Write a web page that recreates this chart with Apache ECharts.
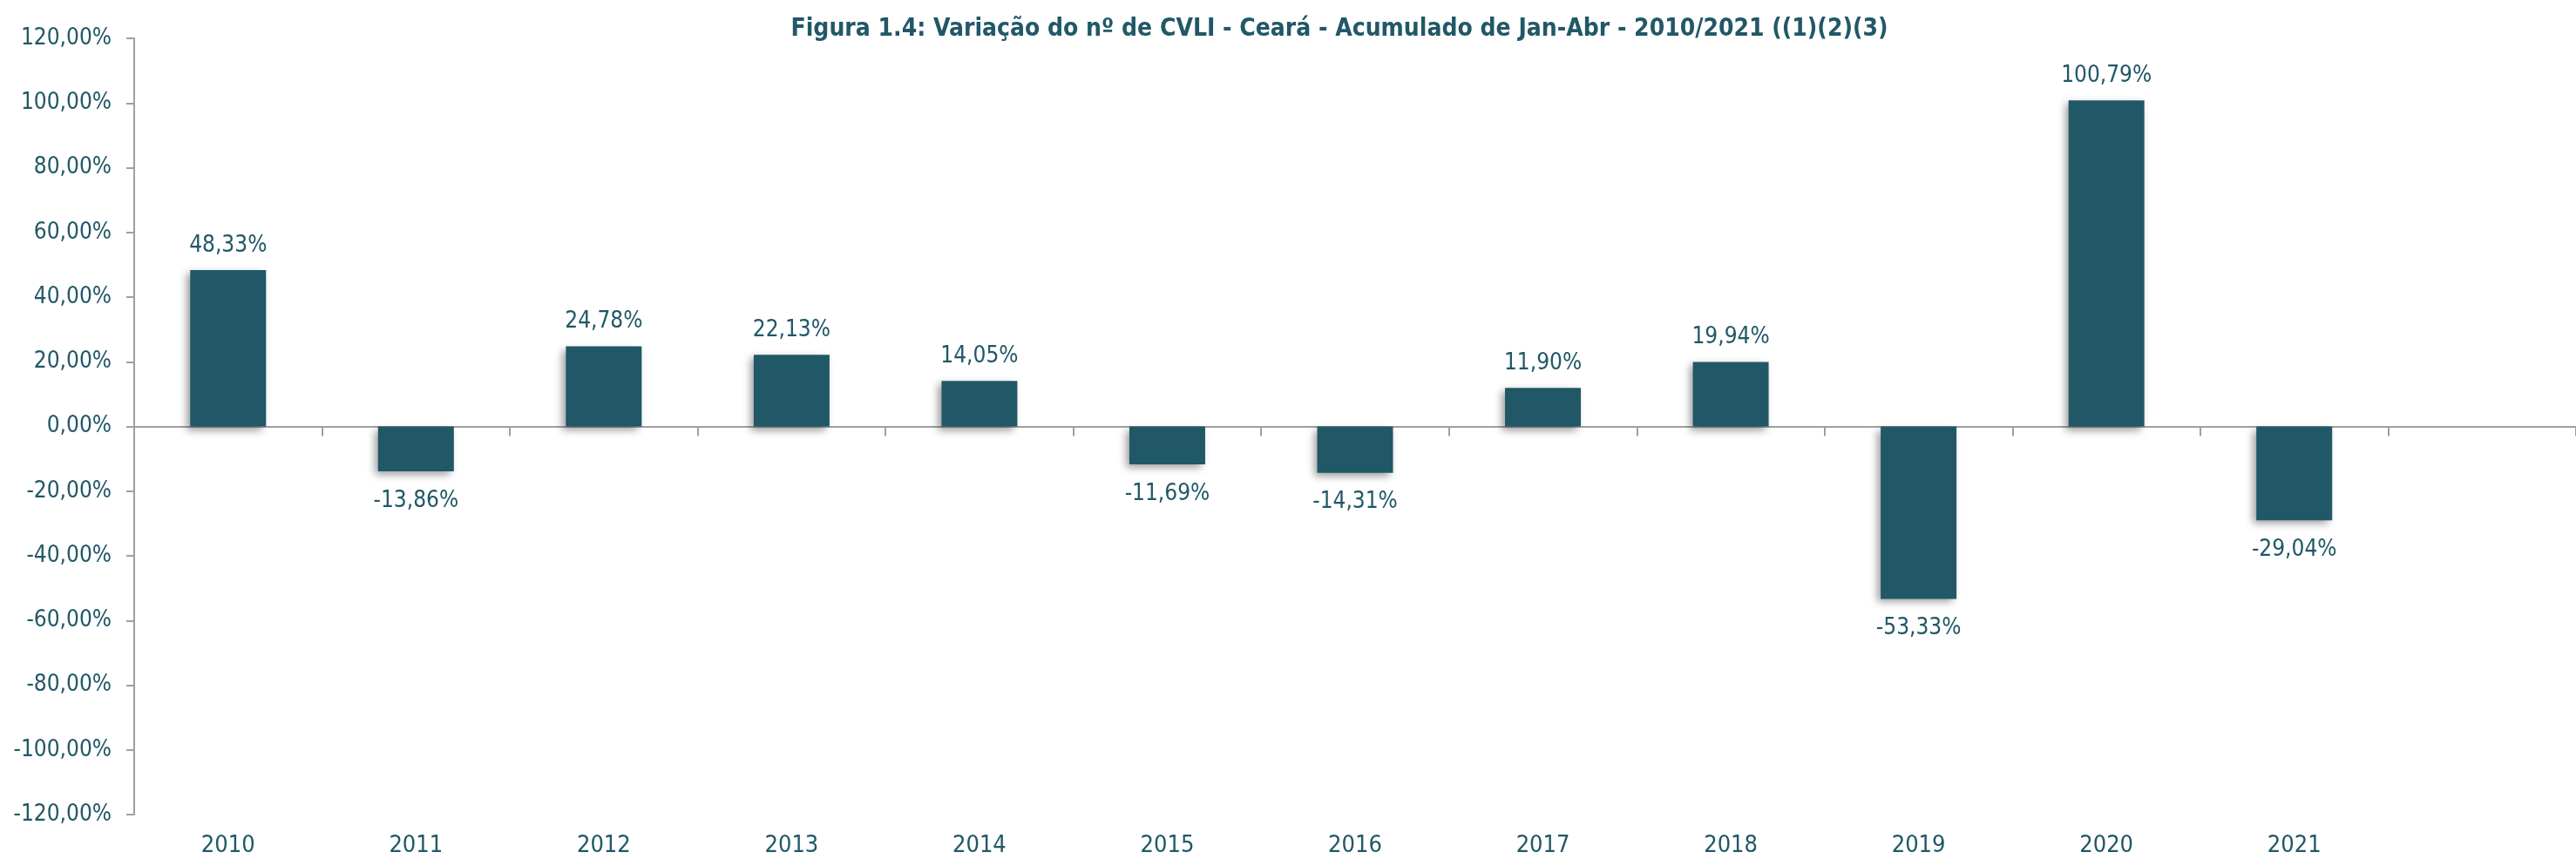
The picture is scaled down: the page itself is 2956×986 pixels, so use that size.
<!DOCTYPE html>
<html>
<head>
<meta charset="utf-8">
<script src="https://cdn.jsdelivr.net/npm/echarts@6/dist/echarts.min.js"></script>
<style>
  html, body { margin: 0; padding: 0; background: #fff; }
  #chart { width: 2956px; height: 986px; }
</style>
</head>
<body>
<div id="chart"></div>
<script>
const teal = '#215867';
const axisGray = '#a0a0a0';
const font = '"DejaVu Sans Condensed", "Liberation Sans", sans-serif';

const years = ['2010', '2011', '2012', '2013', '2014', '2015', '2016', '2017', '2018', '2019', '2020', '2021', ''];
const variation = [48.33, -13.86, 24.78, 22.13, 14.05, -11.69, -14.31, 11.90, 19.94, -53.33, 100.79, -29.04];

const pct = v => v.toFixed(2).replace('.', ',') + '%';

const chart = echarts.init(document.getElementById('chart'));
chart.setOption({
    animation: false,
    title: {
        text: 'Figura 1.4: Variação do nº de CVLI - Ceará - Acumulado de Jan-Abr - 2010/2021 ((1)(2)(3)',
        left: 1532,
        top: 15,
        textAlign: 'center',
        textStyle: { color: teal, fontFamily: font, fontWeight: 'bold', fontSize: 28 },
    },
    grid: { left: 154, right: -15, top: 44, bottom: 51 },
    xAxis: [
        {
            type: 'category',
            data: years,
            axisLine: { onZero: true, lineStyle: { color: axisGray, width: 2 } },
            axisTick: { show: true, length: 11, lineStyle: { color: axisGray, width: 2 } },
            axisLabel: { show: false },
        },
        {
            type: 'category',
            data: years,
            position: 'bottom',
            axisLine: { show: false },
            axisTick: { show: false },
            axisLabel: { color: teal, fontFamily: font, fontSize: 27, margin: 22 },
        },
    ],
    yAxis: {
        type: 'value',
        min: -120,
        max: 120,
        interval: 20,
        axisLine: { show: true, lineStyle: { color: axisGray, width: 2 } },
        axisTick: { show: true, length: 9, lineStyle: { color: axisGray, width: 2 } },
        splitLine: { show: false },
        axisLabel: { color: teal, fontFamily: font, fontSize: 26, margin: 26, formatter: pct },
    },
    series: [{
        type: 'bar',
        xAxisIndex: 0,
        barWidth: 87,
        data: variation.map(v => ({
            value: v,
            label: v < 0 ? { position: 'bottom', distance: 21 } : { position: 'top', distance: 15 },
        })),
        itemStyle: {
            color: teal,
            shadowColor: 'rgba(0,0,0,0.4)',
            shadowBlur: 9,
            shadowOffsetX: -4,
            shadowOffsetY: 4,
        },
        label: {
            show: true,
            color: teal,
            fontFamily: font,
            fontSize: 26,
            formatter: p => pct(p.value),
        },
    }],
});
</script>
</body>
</html>
